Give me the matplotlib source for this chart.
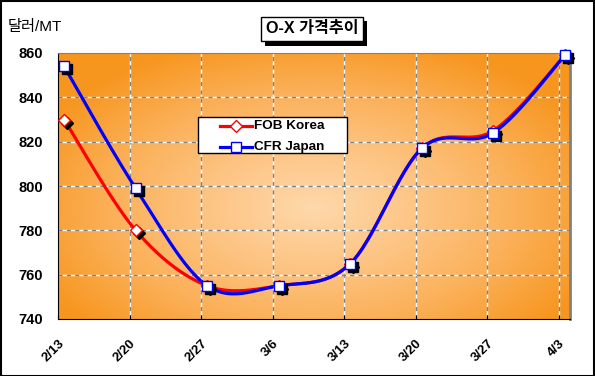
import numpy as np
import matplotlib
matplotlib.use('Agg')
import matplotlib.pyplot as plt
import matplotlib.transforms as mtransforms
from matplotlib.colors import LinearSegmentedColormap
from matplotlib.patches import Rectangle
import matplotlib.patheffects as pe

plt.rcParams['font.family'] = ['Liberation Sans', 'Noto Sans CJK KR', 'DejaVu Sans']

# data
dates = ['2/13', '2/20', '2/27', '3/6', '3/13', '3/20', '3/27', '4/3']
fob_korea = [830, 780, 755, 755, 765, 817, 825, 859]
cfr_japan = [854, 799, 755, 755, 765, 817, 824, 859]
series_names = ['FOB Korea', 'CFR Japan']


def smooth(xs, ys, n=30):
    # excel-like smoothed line: bezier through points, catmull-rom tangents
    pts = np.column_stack([np.asarray(xs, float), np.asarray(ys, float)])
    out = []
    for i in range(len(pts) - 1):
        p0 = pts[i - 1] if i > 0 else pts[i]
        p1, p2 = pts[i], pts[i + 1]
        p3 = pts[i + 2] if i + 2 < len(pts) else pts[i + 1]
        c1 = p1 + (p2 - p0) / 6
        c2 = p2 - (p3 - p1) / 6
        t = np.linspace(0, 1, n)[:, None]
        seg = (1 - t) ** 3 * p1 + 3 * (1 - t) ** 2 * t * c1 + 3 * (1 - t) * t ** 2 * c2 + t ** 3 * p2
        out.append(seg if i == 0 else seg[1:])
    seg = np.vstack(out)
    return seg[:, 0], seg[:, 1]


fig = plt.figure(figsize=(5.95, 3.76), dpi=100)
ax = fig.add_axes([58 / 595, 1 - 319 / 376, 512 / 595, 266 / 376])

x = np.arange(len(dates))
xmin, xmax = -0.085, 7.07
ax.set_xlim(xmin, xmax)
ax.set_ylim(740, 860)

# radial orange background
gx, gy = np.meshgrid(np.linspace(0, 1, 300), np.linspace(0, 1, 200))
r = np.sqrt(((gx - 0.5) / 0.6) ** 2 + ((gy - 0.42) / 0.66) ** 2)
r = np.clip(r, 0, 1)
cmap = LinearSegmentedColormap.from_list('bg', ['#fdd8aa', '#fdc585', '#fbb058', '#f7961f'])
ax.imshow(r, cmap=cmap, extent=[xmin, xmax, 740, 860], origin='lower',
          aspect='auto', zorder=0, interpolation='bilinear')

# grid: white with gray dashes
grid_x = x + xmin
for gxp in grid_x[1:]:
    ax.axvline(gxp, color='white', lw=1, zorder=1)
    ax.axvline(gxp, color='#808080', lw=1, ls=(0, (3, 3)), zorder=1)
for gyp in range(760, 860, 20):
    ax.axhline(gyp, color='white', lw=1, zorder=1)
    ax.axhline(gyp, color='#808080', lw=1, ls=(0, (3, 3)), zorder=1)

# lines
sx, sy = smooth(x, fob_korea)
ax.plot(sx, sy, color='#ff0000', lw=2.3, zorder=3, solid_capstyle='round')
sx, sy = smooth(x, cfr_japan)
ax.plot(sx, sy, color='#0000ff', lw=2.3, zorder=4, solid_capstyle='round')

shadow = mtransforms.offset_copy(ax.transData, fig=fig, x=3, y=-3, units='dots')
ax.plot(x, fob_korea, ls='none', marker='D', ms=6, mfc='black', mec='black', transform=shadow,
        zorder=5, clip_on=False)
ax.plot(x, fob_korea, ls='none', marker='D', ms=6, mfc='white', mec='#ff0000', mew=1, zorder=6,
        clip_on=False)
ax.plot(x, cfr_japan, ls='none', marker='s', ms=7.5, mfc='black', mec='black', transform=shadow,
        zorder=7, clip_on=False)
ax.plot(x, cfr_japan, ls='none', marker='s', ms=7.5, mfc='white', mec='#0000ff', mew=1, zorder=8,
        clip_on=False)

# legend drawn by hand (box is wider than its entries)
lx0, lx1 = (198 - 58) / 512, (347 - 58) / 512
ly0, ly1 = (319 - 153) / 266, (319 - 117) / 266
ax.add_patch(Rectangle((lx0, ly0), lx1 - lx0, ly1 - ly0, transform=ax.transAxes,
                       fc='white', ec='black', lw=1, zorder=10))
styles = [('#ff0000', 'D', 6), ('#0000ff', 's', 7.5)]
rows_y = [(319 - 126) / 266, (319 - 147) / 266]
for name, (col, mk, ms), yy in zip(series_names, styles, rows_y):
    ax.plot([(220 - 58) / 512, (252 - 58) / 512], [yy, yy], color=col, lw=2.3,
            transform=ax.transAxes, zorder=11)
    ax.plot([(236 - 58) / 512], [yy], marker=mk, ms=ms, mfc='white', mec=col,
            transform=ax.transAxes, zorder=12)
    ax.text((254 - 58) / 512, yy, name, transform=ax.transAxes, ha='left', va='center',
            fontsize=9.7, fontweight='bold', zorder=12)

# axes styling
ax.set_xticks(grid_x)
ax.set_xticklabels(dates, rotation=45, ha='right', va='top', rotation_mode='anchor',
                   fontsize=9.5, fontweight='bold')
shift = mtransforms.ScaledTranslation(-4 / 100, 0, fig.dpi_scale_trans)
for lab in ax.get_xticklabels():
    lab.set_transform(lab.get_transform() + shift)
ax.set_yticks(range(740, 861, 20))
ax.set_yticklabels([str(v) for v in range(740, 861, 20)], fontsize=10.5, fontweight='bold')
ax.tick_params(axis='x', direction='in', length=3, pad=13)
ax.tick_params(axis='y', length=0, pad=11)
ax.spines['left'].set_color('black')
ax.spines['bottom'].set_color('black')
ax.spines['top'].set_color('#808080')
ax.spines['right'].set_color('#808080')
ax.spines['right'].set_linewidth(2)

# title box with shadow
fig.text(312 / 595, 1 - 29 / 376, 'O-X 가격추이', ha='center', va='center',
         fontsize=11.6, fontweight='bold',
         bbox=dict(boxstyle='square,pad=0.3', fc='white', ec='black', lw=1,
                   path_effects=[pe.withSimplePatchShadow(offset=(3, -3), shadow_rgbFace='black', alpha=1)]))
fig.text(8 / 595, 1 - 27 / 376, '달러/MT', ha='left', va='center', fontsize=11)

# figure border
fig.patches.append(Rectangle((0.001, 0.001), 0.997, 0.997, transform=fig.transFigure,
                             fill=False, ec='black', lw=1.5))

fig.savefig('out.png', dpi=100, facecolor='white')
